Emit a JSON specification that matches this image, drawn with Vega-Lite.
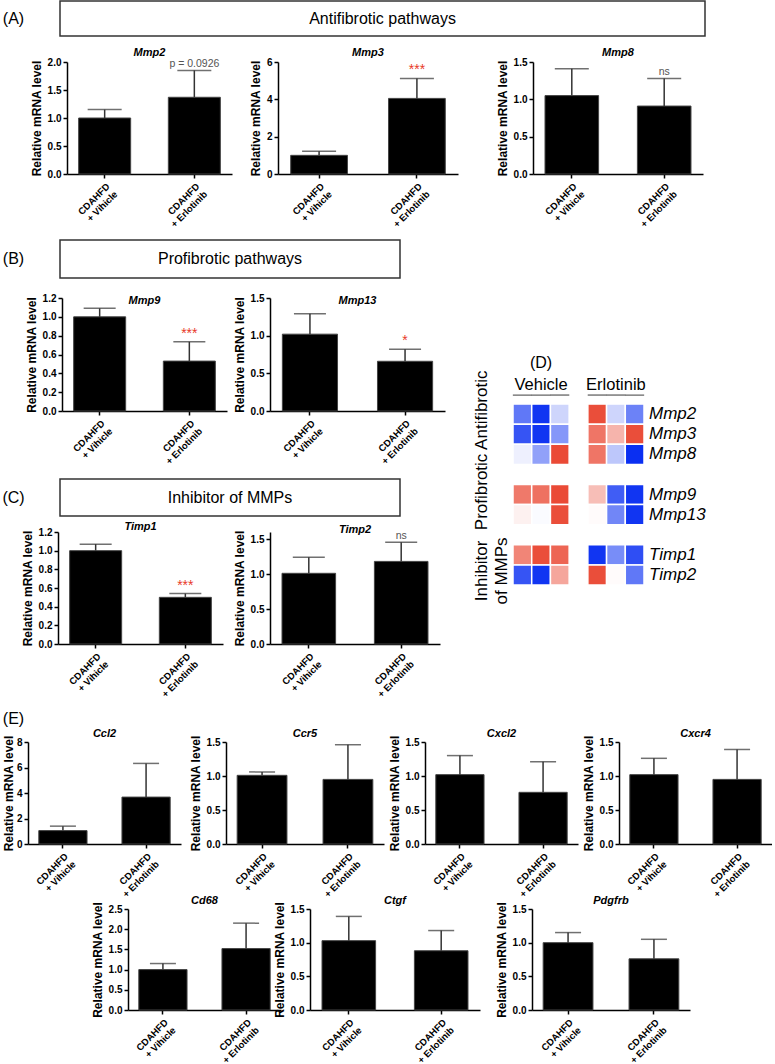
{
"$schema":"https://vega.github.io/schema/vega-lite/v6.json",
"padding":0,
"background":"white",
"spacing":-40,
"vconcat":[
 {"bounds":"flush","spacing":0,"hconcat":[
  {"width":27,"height":35,"data":{"values":[{"t":"(A)"}]},"mark":{"type":"text","fontSize":16},"encoding":{"text":{"field":"t"}}},
  {"width":33,"height":60.25,"data":{"values":[]},"mark":"text"},
  {"width":645,"height":35,"view":{"stroke":"#333","strokeWidth":1.5},"data":{"values":[{"t":"Antifibrotic pathways"}]},"mark":{"type":"text","fontSize":16},"encoding":{"text":{"field":"t"}}}
 ]},
 {"bounds":"flush","spacing":0,"hconcat":[
  {"width":67,"height":178,"data":{"values":[]},"mark":"text"},
  {"width":165,"height":112,"title":{"text":"Mmp2","offset":-1},"data":{"name":"bars"},"transform":[{"filter":"datum.gene === 'Mmp2'"}],
   "encoding":{"x":{"field":"group","type":"nominal","sort":null,"scale":{"paddingInner":0.42,"paddingOuter":0.13},"axis":{"title":null,"labelExpr":"split(datum.label, '\\n')"}}},
   "layer":[
    {"mark":{"type":"bar","color":"black","stroke":"#444","strokeWidth":1},"encoding":{"y":{"field":"mean","type":"quantitative","title":"Relative mRNA level","scale":{"domain":[0,2],"nice":false},"axis":{"values":[0,0.5,1,1.5,2],"format":".1f"}}}},
    {"mark":{"type":"rule","color":"#333","strokeWidth":1.5},"encoding":{"y":{"field":"mean","type":"quantitative","title":"Relative mRNA level","scale":{"domain":[0,2],"nice":false},"axis":{"values":[0,0.5,1,1.5,2],"format":".1f"}},"y2":{"field":"upper"}}},
    {"mark":{"type":"tick","orient":"horizontal","size":34,"thickness":1.5,"color":"#333"},"encoding":{"y":{"field":"upper","type":"quantitative","title":"Relative mRNA level","scale":{"domain":[0,2],"nice":false},"axis":{"values":[0,0.5,1,1.5,2],"format":".1f"}}}},
    {"transform":[{"filter":"isValid(datum.sig)"}],"mark":{"type":"text","baseline":"bottom","dy":-1},"encoding":{"y":{"field":"upper","type":"quantitative","title":"Relative mRNA level","scale":{"domain":[0,2],"nice":false},"axis":{"values":[0,0.5,1,1.5,2],"format":".1f"}},"text":{"field":"sig"},"color":{"condition":{"test":"datum.sig === '***' || datum.sig === '*'","value":"#e8392a"},"value":"#555"},"size":{"condition":{"test":"datum.sig === '***' || datum.sig === '*'","value":14},"value":10.5}}}
   ]},
  {"width":46,"height":1,"data":{"values":[]},"mark":"text"},
  {"width":180,"height":112,"title":{"text":"Mmp3","offset":-1},"data":{"name":"bars"},"transform":[{"filter":"datum.gene === 'Mmp3'"}],
   "encoding":{"x":{"field":"group","type":"nominal","sort":null,"scale":{"paddingInner":0.42,"paddingOuter":0.13},"axis":{"title":null,"labelExpr":"split(datum.label, '\\n')"}}},
   "layer":[
    {"mark":{"type":"bar","color":"black","stroke":"#444","strokeWidth":1},"encoding":{"y":{"field":"mean","type":"quantitative","title":"Relative mRNA level","scale":{"domain":[0,6],"nice":false},"axis":{"values":[0,2,4,6],"format":"d"}}}},
    {"mark":{"type":"rule","color":"#333","strokeWidth":1.5},"encoding":{"y":{"field":"mean","type":"quantitative","title":"Relative mRNA level","scale":{"domain":[0,6],"nice":false},"axis":{"values":[0,2,4,6],"format":"d"}},"y2":{"field":"upper"}}},
    {"mark":{"type":"tick","orient":"horizontal","size":34,"thickness":1.5,"color":"#333"},"encoding":{"y":{"field":"upper","type":"quantitative","title":"Relative mRNA level","scale":{"domain":[0,6],"nice":false},"axis":{"values":[0,2,4,6],"format":"d"}}}},
    {"transform":[{"filter":"isValid(datum.sig)"}],"mark":{"type":"text","baseline":"bottom","dy":-1},"encoding":{"y":{"field":"upper","type":"quantitative","title":"Relative mRNA level","scale":{"domain":[0,6],"nice":false},"axis":{"values":[0,2,4,6],"format":"d"}},"text":{"field":"sig"},"color":{"condition":{"test":"datum.sig === '***' || datum.sig === '*'","value":"#e8392a"},"value":"#555"},"size":{"condition":{"test":"datum.sig === '***' || datum.sig === '*'","value":14},"value":10.5}}}
   ]},
  {"width":75,"height":1,"data":{"values":[]},"mark":"text"},
  {"width":170,"height":112,"title":{"text":"Mmp8","offset":-1},"data":{"name":"bars"},"transform":[{"filter":"datum.gene === 'Mmp8'"}],
   "encoding":{"x":{"field":"group","type":"nominal","sort":null,"scale":{"paddingInner":0.42,"paddingOuter":0.13},"axis":{"title":null,"labelExpr":"split(datum.label, '\\n')"}}},
   "layer":[
    {"mark":{"type":"bar","color":"black","stroke":"#444","strokeWidth":1},"encoding":{"y":{"field":"mean","type":"quantitative","title":"Relative mRNA level","scale":{"domain":[0,1.5],"nice":false},"axis":{"values":[0,0.5,1,1.5],"format":".1f"}}}},
    {"mark":{"type":"rule","color":"#333","strokeWidth":1.5},"encoding":{"y":{"field":"mean","type":"quantitative","title":"Relative mRNA level","scale":{"domain":[0,1.5],"nice":false},"axis":{"values":[0,0.5,1,1.5],"format":".1f"}},"y2":{"field":"upper"}}},
    {"mark":{"type":"tick","orient":"horizontal","size":34,"thickness":1.5,"color":"#333"},"encoding":{"y":{"field":"upper","type":"quantitative","title":"Relative mRNA level","scale":{"domain":[0,1.5],"nice":false},"axis":{"values":[0,0.5,1,1.5],"format":".1f"}}}},
    {"transform":[{"filter":"isValid(datum.sig)"}],"mark":{"type":"text","baseline":"bottom","dy":-1},"encoding":{"y":{"field":"upper","type":"quantitative","title":"Relative mRNA level","scale":{"domain":[0,1.5],"nice":false},"axis":{"values":[0,0.5,1,1.5],"format":".1f"}},"text":{"field":"sig"},"color":{"condition":{"test":"datum.sig === '***' || datum.sig === '*'","value":"#e8392a"},"value":"#555"},"size":{"condition":{"test":"datum.sig === '***' || datum.sig === '*'","value":14},"value":10.5}}}
   ]}
 ]},
 {"spacing":27,"hconcat":[
  {"spacing":-40,"vconcat":[
   {"bounds":"flush","spacing":0,"hconcat":[
    {"width":27,"height":38,"data":{"values":[{"t":"(B)"}]},"mark":{"type":"text","fontSize":16},"encoding":{"text":{"field":"t"}}},
    {"width":33,"height":58,"data":{"values":[]},"mark":"text"},
    {"width":340,"height":38,"view":{"stroke":"#333","strokeWidth":1.5},"data":{"values":[{"t":"Profibrotic pathways"}]},"mark":{"type":"text","fontSize":16},"encoding":{"text":{"field":"t"}}}
   ]},
   {"bounds":"flush","spacing":0,"hconcat":[
    {"width":62,"height":181,"data":{"values":[]},"mark":"text"},
    {"width":165,"height":113,"title":{"text":"Mmp9","offset":-13},"data":{"name":"bars"},"transform":[{"filter":"datum.gene === 'Mmp9'"}],
     "encoding":{"x":{"field":"group","type":"nominal","sort":null,"scale":{"paddingInner":0.42,"paddingOuter":0.13},"axis":{"title":null,"labelExpr":"split(datum.label, '\\n')"}}},
     "layer":[
      {"mark":{"type":"bar","color":"black","stroke":"#444","strokeWidth":1},"encoding":{"y":{"field":"mean","type":"quantitative","title":"Relative mRNA level","scale":{"domain":[0,1.2],"nice":false},"axis":{"values":[0,0.2,0.4,0.6,0.8,1,1.2],"format":".1f"}}}},
      {"mark":{"type":"rule","color":"#333","strokeWidth":1.5},"encoding":{"y":{"field":"mean","type":"quantitative","title":"Relative mRNA level","scale":{"domain":[0,1.2],"nice":false},"axis":{"values":[0,0.2,0.4,0.6,0.8,1,1.2],"format":".1f"}},"y2":{"field":"upper"}}},
      {"mark":{"type":"tick","orient":"horizontal","size":32,"thickness":1.5,"color":"#333"},"encoding":{"y":{"field":"upper","type":"quantitative","title":"Relative mRNA level","scale":{"domain":[0,1.2],"nice":false},"axis":{"values":[0,0.2,0.4,0.6,0.8,1,1.2],"format":".1f"}}}},
      {"transform":[{"filter":"isValid(datum.sig)"}],"mark":{"type":"text","baseline":"bottom","dy":-1},"encoding":{"y":{"field":"upper","type":"quantitative","title":"Relative mRNA level","scale":{"domain":[0,1.2],"nice":false},"axis":{"values":[0,0.2,0.4,0.6,0.8,1,1.2],"format":".1f"}},"text":{"field":"sig"},"color":{"condition":{"test":"datum.sig === '***' || datum.sig === '*'","value":"#e8392a"},"value":"#555"},"size":{"condition":{"test":"datum.sig === '***' || datum.sig === '*'","value":14},"value":10.5}}}
     ]},
    {"width":43,"height":1,"data":{"values":[]},"mark":"text"},
    {"width":175,"height":113,"title":{"text":"Mmp13","offset":-13},"data":{"name":"bars"},"transform":[{"filter":"datum.gene === 'Mmp13'"}],
     "encoding":{"x":{"field":"group","type":"nominal","sort":null,"scale":{"paddingInner":0.42,"paddingOuter":0.13},"axis":{"title":null,"labelExpr":"split(datum.label, '\\n')"}}},
     "layer":[
      {"mark":{"type":"bar","color":"black","stroke":"#444","strokeWidth":1},"encoding":{"y":{"field":"mean","type":"quantitative","title":"Relative mRNA level","scale":{"domain":[0,1.5],"nice":false},"axis":{"values":[0,0.5,1,1.5],"format":".1f"}}}},
      {"mark":{"type":"rule","color":"#333","strokeWidth":1.5},"encoding":{"y":{"field":"mean","type":"quantitative","title":"Relative mRNA level","scale":{"domain":[0,1.5],"nice":false},"axis":{"values":[0,0.5,1,1.5],"format":".1f"}},"y2":{"field":"upper"}}},
      {"mark":{"type":"tick","orient":"horizontal","size":32,"thickness":1.5,"color":"#333"},"encoding":{"y":{"field":"upper","type":"quantitative","title":"Relative mRNA level","scale":{"domain":[0,1.5],"nice":false},"axis":{"values":[0,0.5,1,1.5],"format":".1f"}}}},
      {"transform":[{"filter":"isValid(datum.sig)"}],"mark":{"type":"text","baseline":"bottom","dy":-1},"encoding":{"y":{"field":"upper","type":"quantitative","title":"Relative mRNA level","scale":{"domain":[0,1.5],"nice":false},"axis":{"values":[0,0.5,1,1.5],"format":".1f"}},"text":{"field":"sig"},"color":{"condition":{"test":"datum.sig === '***' || datum.sig === '*'","value":"#e8392a"},"value":"#555"},"size":{"condition":{"test":"datum.sig === '***' || datum.sig === '*'","value":14},"value":10.5}}}
     ]}
   ]},
   {"bounds":"flush","spacing":0,"hconcat":[
    {"width":27,"height":37,"data":{"values":[{"t":"(C)"}]},"mark":{"type":"text","fontSize":16},"encoding":{"text":{"field":"t"}}},
    {"width":33,"height":53,"data":{"values":[]},"mark":"text"},
    {"width":340,"height":37,"view":{"stroke":"#333","strokeWidth":1.5},"data":{"values":[{"t":"Inhibitor of MMPs"}]},"mark":{"type":"text","fontSize":16},"encoding":{"text":{"field":"t"}}}
   ]},
   {"bounds":"flush","spacing":0,"hconcat":[
    {"width":58,"height":177,"data":{"values":[]},"mark":"text"},
    {"width":165,"height":112,"title":{"text":"Timp1","offset":-5},"data":{"name":"bars"},"transform":[{"filter":"datum.gene === 'Timp1'"}],
     "encoding":{"x":{"field":"group","type":"nominal","sort":null,"scale":{"paddingInner":0.42,"paddingOuter":0.13},"axis":{"title":null,"labelExpr":"split(datum.label, '\\n')"}}},
     "layer":[
      {"mark":{"type":"bar","color":"black","stroke":"#444","strokeWidth":1},"encoding":{"y":{"field":"mean","type":"quantitative","title":"Relative mRNA level","scale":{"domain":[0,1.2],"nice":false},"axis":{"values":[0,0.2,0.4,0.6,0.8,1,1.2],"format":".1f"}}}},
      {"mark":{"type":"rule","color":"#333","strokeWidth":1.5},"encoding":{"y":{"field":"mean","type":"quantitative","title":"Relative mRNA level","scale":{"domain":[0,1.2],"nice":false},"axis":{"values":[0,0.2,0.4,0.6,0.8,1,1.2],"format":".1f"}},"y2":{"field":"upper"}}},
      {"mark":{"type":"tick","orient":"horizontal","size":32,"thickness":1.5,"color":"#333"},"encoding":{"y":{"field":"upper","type":"quantitative","title":"Relative mRNA level","scale":{"domain":[0,1.2],"nice":false},"axis":{"values":[0,0.2,0.4,0.6,0.8,1,1.2],"format":".1f"}}}},
      {"transform":[{"filter":"isValid(datum.sig)"}],"mark":{"type":"text","baseline":"bottom","dy":-1},"encoding":{"y":{"field":"upper","type":"quantitative","title":"Relative mRNA level","scale":{"domain":[0,1.2],"nice":false},"axis":{"values":[0,0.2,0.4,0.6,0.8,1,1.2],"format":".1f"}},"text":{"field":"sig"},"color":{"condition":{"test":"datum.sig === '***' || datum.sig === '*'","value":"#e8392a"},"value":"#555"},"size":{"condition":{"test":"datum.sig === '***' || datum.sig === '*'","value":14},"value":10.5}}}
     ]},
    {"width":47,"height":1,"data":{"values":[]},"mark":"text"},
    {"width":170,"height":112,"title":{"text":"Timp2","offset":-5},"data":{"name":"bars"},"transform":[{"filter":"datum.gene === 'Timp2'"}],
     "encoding":{"x":{"field":"group","type":"nominal","sort":null,"scale":{"paddingInner":0.42,"paddingOuter":0.13},"axis":{"title":null,"labelExpr":"split(datum.label, '\\n')"}}},
     "layer":[
      {"mark":{"type":"bar","color":"black","stroke":"#444","strokeWidth":1},"encoding":{"y":{"field":"mean","type":"quantitative","title":"Relative mRNA level","scale":{"domain":[0,1.6],"nice":false},"axis":{"values":[0,0.5,1,1.5],"format":".1f"}}}},
      {"mark":{"type":"rule","color":"#333","strokeWidth":1.5},"encoding":{"y":{"field":"mean","type":"quantitative","title":"Relative mRNA level","scale":{"domain":[0,1.6],"nice":false},"axis":{"values":[0,0.5,1,1.5],"format":".1f"}},"y2":{"field":"upper"}}},
      {"mark":{"type":"tick","orient":"horizontal","size":32,"thickness":1.5,"color":"#333"},"encoding":{"y":{"field":"upper","type":"quantitative","title":"Relative mRNA level","scale":{"domain":[0,1.6],"nice":false},"axis":{"values":[0,0.5,1,1.5],"format":".1f"}}}},
      {"transform":[{"filter":"isValid(datum.sig)"}],"mark":{"type":"text","baseline":"bottom","dy":-1},"encoding":{"y":{"field":"upper","type":"quantitative","title":"Relative mRNA level","scale":{"domain":[0,1.6],"nice":false},"axis":{"values":[0,0.5,1,1.5],"format":".1f"}},"text":{"field":"sig"},"color":{"condition":{"test":"datum.sig === '***' || datum.sig === '*'","value":"#e8392a"},"value":"#555"},"size":{"condition":{"test":"datum.sig === '***' || datum.sig === '*'","value":14},"value":10.5}}}
     ]}
   ]}
  ]},
  {"bounds":"flush","spacing":0,"vconcat":[
   {"width":1,"height":143.75,"data":{"values":[]},"mark":"text"},
   {"width":131,"height":201,
    "layer":[
     {"data":{"name":"heat"},"mark":{"type":"rect","stroke":"white","strokeWidth":1.5},
      "encoding":{
       "x":{"field":"col","type":"nominal","scale":{"domain":["V1","V2","V3","gap","E1","E2","E3"],"paddingInner":0,"paddingOuter":0},"axis":null},
       "y":{"field":"gene","type":"nominal","scale":{"domain":["hdr","Mmp2","Mmp3","Mmp8","g1","Mmp9","Mmp13","g2","Timp1","Timp2"],"paddingInner":0,"paddingOuter":0},"axis":null},
       "color":{"field":"z","type":"quantitative","scale":{"domain":[-1,0,1],"range":["#0a2ff2","#ffffff","#e83a24"],"interpolate":"rgb"},"legend":null}}},
     {"data":{"name":"heat"},"transform":[{"filter":"datum.gene === 'Mmp2'"}],"mark":{"type":"tick","orient":"horizontal","size":19,"thickness":1.3,"color":"#222"},
      "encoding":{"x":{"field":"col","type":"nominal"},"y":{"datum":"hdr","bandPosition":0.55}}},
     {"data":{"values":[{"col":"V2","label":"Vehicle"},{"col":"E2","label":"Erlotinib"}]},"mark":{"type":"text","fontSize":16.5,"dy":-9},
      "encoding":{"x":{"field":"col","type":"nominal"},"y":{"datum":"hdr"},"text":{"field":"label"}}},
     {"data":{"values":[{"col":"V2","label":"(D)"}]},"mark":{"type":"text","fontSize":16,"dy":-31},
      "encoding":{"x":{"field":"col","type":"nominal"},"y":{"datum":"hdr"},"text":{"field":"label"}}},
     {"data":{"name":"heat"},"transform":[{"filter":"datum.col === 'E3'"}],"mark":{"type":"text","align":"left","dx":5,"fontSize":17,"fontStyle":"italic"},
      "encoding":{"x":{"field":"col","type":"nominal","bandPosition":1},"y":{"field":"gene","type":"nominal"},"text":{"field":"gene"}}},
     {"data":{"values":[{"row":"Mmp8","label":"Profibrotic Antifibrotic"},{"row":"Timp2","label":"Inhibitor\nof MMPs"}]},"mark":{"type":"text","angle":270,"align":"center","baseline":"top","dy":-39,"dx":4,"fontSize":17,"lineBreak":"\n","lineHeight":20},
      "encoding":{"x":{"datum":"V1","bandPosition":0},"y":{"field":"row","type":"nominal"},"text":{"field":"label"}}}
    ]}
  ]}
 ]},
 {"bounds":"flush","spacing":0,"hconcat":[
  {"width":27,"height":20,"data":{"values":[{"t":"(E)"}]},"mark":{"type":"text","fontSize":16},"encoding":{"text":{"field":"t"}}},
  {"width":1,"height":33,"data":{"values":[]},"mark":"text"}
 ]},
 {"bounds":"flush","spacing":0,"hconcat":[
  {"width":28,"height":167,"data":{"values":[]},"mark":"text"},
  {"width":153,"height":102,"title":{"text":"Ccl2","offset":-4},"data":{"name":"bars"},"transform":[{"filter":"datum.gene === 'Ccl2'"}],
   "encoding":{"x":{"field":"group","type":"nominal","sort":null,"scale":{"paddingInner":0.42,"paddingOuter":0.13},"axis":{"title":null,"labelExpr":"split(datum.label, '\\n')"}}},
   "layer":[
    {"mark":{"type":"bar","color":"black","stroke":"#444","strokeWidth":1},"encoding":{"y":{"field":"mean","type":"quantitative","title":"Relative mRNA level","scale":{"domain":[0,8],"nice":false},"axis":{"values":[0,2,4,6,8],"format":"d","titlePadding":1}}}},
    {"mark":{"type":"rule","color":"#333","strokeWidth":1.5},"encoding":{"y":{"field":"mean","type":"quantitative","title":"Relative mRNA level","scale":{"domain":[0,8],"nice":false},"axis":{"values":[0,2,4,6,8],"format":"d","titlePadding":1}},"y2":{"field":"upper"}}},
    {"mark":{"type":"tick","orient":"horizontal","size":26,"thickness":1.5,"color":"#333"},"encoding":{"y":{"field":"upper","type":"quantitative","title":"Relative mRNA level","scale":{"domain":[0,8],"nice":false},"axis":{"values":[0,2,4,6,8],"format":"d","titlePadding":1}}}}
   ]},
  {"width":45,"height":1,"data":{"values":[]},"mark":"text"},
  {"width":158,"height":102,"title":{"text":"Ccr5","offset":-4},"data":{"name":"bars"},"transform":[{"filter":"datum.gene === 'Ccr5'"}],
   "encoding":{"x":{"field":"group","type":"nominal","sort":null,"scale":{"paddingInner":0.42,"paddingOuter":0.13},"axis":{"title":null,"labelExpr":"split(datum.label, '\\n')"}}},
   "layer":[
    {"mark":{"type":"bar","color":"black","stroke":"#444","strokeWidth":1},"encoding":{"y":{"field":"mean","type":"quantitative","title":"Relative mRNA level","scale":{"domain":[0,1.5],"nice":false},"axis":{"values":[0,0.5,1,1.5],"format":".1f"}}}},
    {"mark":{"type":"rule","color":"#333","strokeWidth":1.5},"encoding":{"y":{"field":"mean","type":"quantitative","title":"Relative mRNA level","scale":{"domain":[0,1.5],"nice":false},"axis":{"values":[0,0.5,1,1.5],"format":".1f"}},"y2":{"field":"upper"}}},
    {"mark":{"type":"tick","orient":"horizontal","size":26,"thickness":1.5,"color":"#333"},"encoding":{"y":{"field":"upper","type":"quantitative","title":"Relative mRNA level","scale":{"domain":[0,1.5],"nice":false},"axis":{"values":[0,0.5,1,1.5],"format":".1f"}}}}
   ]},
  {"width":41,"height":1,"data":{"values":[]},"mark":"text"},
  {"width":153,"height":102,"title":{"text":"Cxcl2","offset":-4},"data":{"name":"bars"},"transform":[{"filter":"datum.gene === 'Cxcl2'"}],
   "encoding":{"x":{"field":"group","type":"nominal","sort":null,"scale":{"paddingInner":0.42,"paddingOuter":0.13},"axis":{"title":null,"labelExpr":"split(datum.label, '\\n')"}}},
   "layer":[
    {"mark":{"type":"bar","color":"black","stroke":"#444","strokeWidth":1},"encoding":{"y":{"field":"mean","type":"quantitative","title":"Relative mRNA level","scale":{"domain":[0,1.5],"nice":false},"axis":{"values":[0,0.5,1,1.5],"format":".1f"}}}},
    {"mark":{"type":"rule","color":"#333","strokeWidth":1.5},"encoding":{"y":{"field":"mean","type":"quantitative","title":"Relative mRNA level","scale":{"domain":[0,1.5],"nice":false},"axis":{"values":[0,0.5,1,1.5],"format":".1f"}},"y2":{"field":"upper"}}},
    {"mark":{"type":"tick","orient":"horizontal","size":26,"thickness":1.5,"color":"#333"},"encoding":{"y":{"field":"upper","type":"quantitative","title":"Relative mRNA level","scale":{"domain":[0,1.5],"nice":false},"axis":{"values":[0,0.5,1,1.5],"format":".1f"}}}}
   ]},
  {"width":41,"height":1,"data":{"values":[]},"mark":"text"},
  {"width":153,"height":102,"title":{"text":"Cxcr4","offset":-4},"data":{"name":"bars"},"transform":[{"filter":"datum.gene === 'Cxcr4'"}],
   "encoding":{"x":{"field":"group","type":"nominal","sort":null,"scale":{"paddingInner":0.42,"paddingOuter":0.13},"axis":{"title":null,"labelExpr":"split(datum.label, '\\n')"}}},
   "layer":[
    {"mark":{"type":"bar","color":"black","stroke":"#444","strokeWidth":1},"encoding":{"y":{"field":"mean","type":"quantitative","title":"Relative mRNA level","scale":{"domain":[0,1.5],"nice":false},"axis":{"values":[0,0.5,1,1.5],"format":".1f"}}}},
    {"mark":{"type":"rule","color":"#333","strokeWidth":1.5},"encoding":{"y":{"field":"mean","type":"quantitative","title":"Relative mRNA level","scale":{"domain":[0,1.5],"nice":false},"axis":{"values":[0,0.5,1,1.5],"format":".1f"}},"y2":{"field":"upper"}}},
    {"mark":{"type":"tick","orient":"horizontal","size":26,"thickness":1.5,"color":"#333"},"encoding":{"y":{"field":"upper","type":"quantitative","title":"Relative mRNA level","scale":{"domain":[0,1.5],"nice":false},"axis":{"values":[0,0.5,1,1.5],"format":".1f"}}}}
   ]}
 ]},
 {"bounds":"flush","spacing":0,"hconcat":[
  {"width":128,"height":1,"data":{"values":[]},"mark":"text"},
  {"width":153,"height":101,"title":{"text":"Cd68","offset":-5},"data":{"name":"bars"},"transform":[{"filter":"datum.gene === 'Cd68'"}],
   "encoding":{"x":{"field":"group","type":"nominal","sort":null,"scale":{"paddingInner":0.42,"paddingOuter":0.13},"axis":{"title":null,"labelExpr":"split(datum.label, '\\n')"}}},
   "layer":[
    {"mark":{"type":"bar","color":"black","stroke":"#444","strokeWidth":1},"encoding":{"y":{"field":"mean","type":"quantitative","title":"Relative mRNA level","scale":{"domain":[0,2.5],"nice":false},"axis":{"values":[0,0.5,1,1.5,2,2.5],"format":".1f"}}}},
    {"mark":{"type":"rule","color":"#333","strokeWidth":1.5},"encoding":{"y":{"field":"mean","type":"quantitative","title":"Relative mRNA level","scale":{"domain":[0,2.5],"nice":false},"axis":{"values":[0,0.5,1,1.5,2,2.5],"format":".1f"}},"y2":{"field":"upper"}}},
    {"mark":{"type":"tick","orient":"horizontal","size":26,"thickness":1.5,"color":"#333"},"encoding":{"y":{"field":"upper","type":"quantitative","title":"Relative mRNA level","scale":{"domain":[0,2.5],"nice":false},"axis":{"values":[0,0.5,1,1.5,2,2.5],"format":".1f"}}}}
   ]},
  {"width":29,"height":1,"data":{"values":[]},"mark":"text"},
  {"width":170,"height":101,"title":{"text":"Ctgf","offset":-5},"data":{"name":"bars"},"transform":[{"filter":"datum.gene === 'Ctgf'"}],
   "encoding":{"x":{"field":"group","type":"nominal","sort":null,"scale":{"paddingInner":0.42,"paddingOuter":0.13},"axis":{"title":null,"labelExpr":"split(datum.label, '\\n')"}}},
   "layer":[
    {"mark":{"type":"bar","color":"black","stroke":"#444","strokeWidth":1},"encoding":{"y":{"field":"mean","type":"quantitative","title":"Relative mRNA level","scale":{"domain":[0,1.5],"nice":false},"axis":{"values":[0,0.5,1,1.5],"format":".1f"}}}},
    {"mark":{"type":"rule","color":"#333","strokeWidth":1.5},"encoding":{"y":{"field":"mean","type":"quantitative","title":"Relative mRNA level","scale":{"domain":[0,1.5],"nice":false},"axis":{"values":[0,0.5,1,1.5],"format":".1f"}},"y2":{"field":"upper"}}},
    {"mark":{"type":"tick","orient":"horizontal","size":26,"thickness":1.5,"color":"#333"},"encoding":{"y":{"field":"upper","type":"quantitative","title":"Relative mRNA level","scale":{"domain":[0,1.5],"nice":false},"axis":{"values":[0,0.5,1,1.5],"format":".1f"}}}}
   ]},
  {"width":52,"height":1,"data":{"values":[]},"mark":"text"},
  {"width":158,"height":101,"title":{"text":"Pdgfrb","offset":-5},"data":{"name":"bars"},"transform":[{"filter":"datum.gene === 'Pdgfrb'"}],
   "encoding":{"x":{"field":"group","type":"nominal","sort":null,"scale":{"paddingInner":0.42,"paddingOuter":0.13},"axis":{"title":null,"labelExpr":"split(datum.label, '\\n')"}}},
   "layer":[
    {"mark":{"type":"bar","color":"black","stroke":"#444","strokeWidth":1},"encoding":{"y":{"field":"mean","type":"quantitative","title":"Relative mRNA level","scale":{"domain":[0,1.5],"nice":false},"axis":{"values":[0,0.5,1,1.5],"format":".1f"}}}},
    {"mark":{"type":"rule","color":"#333","strokeWidth":1.5},"encoding":{"y":{"field":"mean","type":"quantitative","title":"Relative mRNA level","scale":{"domain":[0,1.5],"nice":false},"axis":{"values":[0,0.5,1,1.5],"format":".1f"}},"y2":{"field":"upper"}}},
    {"mark":{"type":"tick","orient":"horizontal","size":26,"thickness":1.5,"color":"#333"},"encoding":{"y":{"field":"upper","type":"quantitative","title":"Relative mRNA level","scale":{"domain":[0,1.5],"nice":false},"axis":{"values":[0,0.5,1,1.5],"format":".1f"}}}}
   ]}
 ]}
],
"datasets":{
 "bars":[
  {"gene":"Mmp2","group":"CDAHFD\n+ Vihicle","mean":1.0,"upper":1.15},
  {"gene":"Mmp2","group":"CDAHFD\n+ Erlotinib","mean":1.37,"upper":1.85,"sig":"p = 0.0926"},
  {"gene":"Mmp3","group":"CDAHFD\n+ Vihicle","mean":1.0,"upper":1.22},
  {"gene":"Mmp3","group":"CDAHFD\n+ Erlotinib","mean":4.05,"upper":5.12,"sig":"***"},
  {"gene":"Mmp8","group":"CDAHFD\n+ Vihicle","mean":1.05,"upper":1.41},
  {"gene":"Mmp8","group":"CDAHFD\n+ Erlotinib","mean":0.91,"upper":1.28,"sig":"ns"},
  {"gene":"Mmp9","group":"CDAHFD\n+ Vihicle","mean":1.0,"upper":1.09},
  {"gene":"Mmp9","group":"CDAHFD\n+ Erlotinib","mean":0.53,"upper":0.735,"sig":"***"},
  {"gene":"Mmp13","group":"CDAHFD\n+ Vihicle","mean":1.02,"upper":1.29},
  {"gene":"Mmp13","group":"CDAHFD\n+ Erlotinib","mean":0.66,"upper":0.82,"sig":"*"},
  {"gene":"Timp1","group":"CDAHFD\n+ Vihicle","mean":1.0,"upper":1.07},
  {"gene":"Timp1","group":"CDAHFD\n+ Erlotinib","mean":0.5,"upper":0.54,"sig":"***"},
  {"gene":"Timp2","group":"CDAHFD\n+ Vihicle","mean":1.01,"upper":1.24},
  {"gene":"Timp2","group":"CDAHFD\n+ Erlotinib","mean":1.18,"upper":1.455,"sig":"ns"},
  {"gene":"Ccl2","group":"CDAHFD\n+ Vihicle","mean":1.05,"upper":1.4},
  {"gene":"Ccl2","group":"CDAHFD\n+ Erlotinib","mean":3.68,"upper":6.32},
  {"gene":"Ccr5","group":"CDAHFD\n+ Vihicle","mean":1.01,"upper":1.06},
  {"gene":"Ccr5","group":"CDAHFD\n+ Erlotinib","mean":0.95,"upper":1.46},
  {"gene":"Cxcl2","group":"CDAHFD\n+ Vihicle","mean":1.02,"upper":1.3},
  {"gene":"Cxcl2","group":"CDAHFD\n+ Erlotinib","mean":0.76,"upper":1.21},
  {"gene":"Cxcr4","group":"CDAHFD\n+ Vihicle","mean":1.02,"upper":1.26},
  {"gene":"Cxcr4","group":"CDAHFD\n+ Erlotinib","mean":0.95,"upper":1.39},
  {"gene":"Cd68","group":"CDAHFD\n+ Vihicle","mean":1.0,"upper":1.15},
  {"gene":"Cd68","group":"CDAHFD\n+ Erlotinib","mean":1.52,"upper":2.15},
  {"gene":"Ctgf","group":"CDAHFD\n+ Vihicle","mean":1.03,"upper":1.39},
  {"gene":"Ctgf","group":"CDAHFD\n+ Erlotinib","mean":0.88,"upper":1.18},
  {"gene":"Pdgfrb","group":"CDAHFD\n+ Vihicle","mean":1.0,"upper":1.15},
  {"gene":"Pdgfrb","group":"CDAHFD\n+ Erlotinib","mean":0.76,"upper":1.05}
 ],
 "heat":[
  {"gene":"Mmp2","col":"V1","z":-0.65},{"gene":"Mmp2","col":"V2","z":-0.97},{"gene":"Mmp2","col":"V3","z":-0.2},
  {"gene":"Mmp2","col":"E1","z":0.9},{"gene":"Mmp2","col":"E2","z":-0.2},{"gene":"Mmp2","col":"E3","z":-0.6},
  {"gene":"Mmp3","col":"V1","z":-0.82},{"gene":"Mmp3","col":"V2","z":-0.97},{"gene":"Mmp3","col":"V3","z":-0.5},
  {"gene":"Mmp3","col":"E1","z":0.7},{"gene":"Mmp3","col":"E2","z":0.38},{"gene":"Mmp3","col":"E3","z":0.9},
  {"gene":"Mmp8","col":"V1","z":-0.07},{"gene":"Mmp8","col":"V2","z":-0.45},{"gene":"Mmp8","col":"V3","z":0.92},
  {"gene":"Mmp8","col":"E1","z":0.7},{"gene":"Mmp8","col":"E2","z":-0.27},{"gene":"Mmp8","col":"E3","z":-1},
  {"gene":"Mmp9","col":"V1","z":0.68},{"gene":"Mmp9","col":"V2","z":0.72},{"gene":"Mmp9","col":"V3","z":0.92},
  {"gene":"Mmp9","col":"E1","z":0.33},{"gene":"Mmp9","col":"E2","z":-0.78},{"gene":"Mmp9","col":"E3","z":-0.97},
  {"gene":"Mmp13","col":"V1","z":0.07},{"gene":"Mmp13","col":"V2","z":-0.02},{"gene":"Mmp13","col":"V3","z":0.9},
  {"gene":"Mmp13","col":"E1","z":0.02},{"gene":"Mmp13","col":"E2","z":-0.58},{"gene":"Mmp13","col":"E3","z":-0.97},
  {"gene":"Timp1","col":"V1","z":0.62},{"gene":"Timp1","col":"V2","z":0.9},{"gene":"Timp1","col":"V3","z":0.78},
  {"gene":"Timp1","col":"E1","z":-0.97},{"gene":"Timp1","col":"E2","z":-0.55},{"gene":"Timp1","col":"E3","z":-0.85},
  {"gene":"Timp2","col":"V1","z":-0.82},{"gene":"Timp2","col":"V2","z":-0.97},{"gene":"Timp2","col":"V3","z":0.45},
  {"gene":"Timp2","col":"E1","z":0.9},{"gene":"Timp2","col":"E2","z":0.02},{"gene":"Timp2","col":"E3","z":-0.65}
 ]
},
"config":{
 "font":"Liberation Sans",
 "view":{"stroke":null},
 "axis":{"domainColor":"black","domainWidth":1.5,"tickColor":"black","tickWidth":1.5,"tickSize":4,"labelColor":"black","labelFontWeight":"bold","labelFontSize":10,"labelPadding":2,"labelOverlap":false,"labelFlush":false,"titleColor":"black","titleFontSize":12,"titleFontWeight":"bold","titlePadding":4,"grid":false},
 "axisX":{"labelAngle":315,"labelAlign":"right","labelBaseline":"top","labelFontSize":9.5,"labelLineHeight":11,"labelPadding":3},
 "title":{"fontSize":11,"fontWeight":"bold","fontStyle":"italic","color":"black"},
 "text":{"color":"black"}
}
}
